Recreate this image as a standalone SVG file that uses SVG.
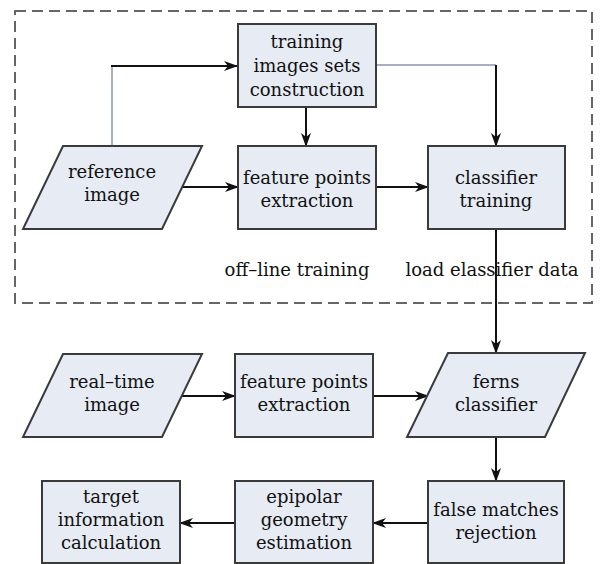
<svg xmlns="http://www.w3.org/2000/svg" width="603" height="564" viewBox="0 0 603 564">
  <style>
    .node { fill: #e6ebf4; stroke: #3a3a3a; stroke-width: 2; }
    .lbl { font-family: "DejaVu Serif", "Liberation Serif", serif; font-size: 18px; fill: #111; text-anchor: middle; }
    .wire { fill: none; stroke: #111; stroke-width: 2; }
    .thin { fill: none; stroke: #8a93b8; stroke-width: 1.5; }
    .frame { fill: none; stroke: #666; stroke-width: 2; stroke-dasharray: 11 6; }
  </style>
  <defs>
    <marker id="arrow" viewBox="0 0 14 10" refX="13" refY="5" markerWidth="14" markerHeight="10" markerUnits="userSpaceOnUse" orient="auto">
      <path d="M0,0 L14,5 L0,10 L4,5 Z" fill="#111"/>
    </marker>
  </defs>

  <rect width="603" height="564" fill="#ffffff"/>

  <!-- off-line training region -->
  <g id="offline-frame">
    <rect class="frame" x="15" y="11" width="577" height="292"/>
    <text class="lbl" x="297" y="276">off–line training</text>
    <text class="lbl" x="492" y="276">load elassifier data</text>
  </g>

  <!-- connectors -->
  <g id="connectors">
    <polyline class="thin" points="112,146 112,66"/>
    <line class="wire" x1="111" y1="66" x2="237" y2="66" marker-end="url(#arrow)"/>
    <polyline class="thin" points="376,65 496,65"/>
    <line class="wire" x1="496" y1="65" x2="496" y2="146" marker-end="url(#arrow)"/>
    <line class="wire" x1="306" y1="107" x2="306" y2="146" marker-end="url(#arrow)"/>
    <line class="wire" x1="181" y1="187" x2="238" y2="187" marker-end="url(#arrow)"/>
    <line class="wire" x1="376" y1="187" x2="428" y2="187" marker-end="url(#arrow)"/>
    <line class="wire" x1="496" y1="229" x2="496" y2="353" marker-end="url(#arrow)"/>
    <line class="wire" x1="180" y1="396" x2="235" y2="396" marker-end="url(#arrow)"/>
    <line class="wire" x1="373" y1="396" x2="428" y2="396" marker-end="url(#arrow)"/>
    <line class="wire" x1="496" y1="437" x2="496" y2="481" marker-end="url(#arrow)"/>
    <line class="wire" x1="428" y1="523" x2="373" y2="523" marker-end="url(#arrow)"/>
    <line class="wire" x1="235" y1="523" x2="180" y2="523" marker-end="url(#arrow)"/>
  </g>

  <g id="training-sets">
    <rect class="node" x="238" y="24" width="138" height="83"/>
    <text class="lbl" x="307" y="48">training</text>
    <text class="lbl" x="307" y="72">images sets</text>
    <text class="lbl" x="307" y="96">construction</text>
  </g>

  <g id="reference-image">
    <polygon class="node" points="63,146 202,146 162,229 23,229"/>
    <text class="lbl" x="112" y="178">reference</text>
    <text class="lbl" x="112" y="201">image</text>
  </g>

  <g id="feature-extraction-offline">
    <rect class="node" x="238" y="146" width="138" height="83"/>
    <text class="lbl" x="307" y="184">feature points</text>
    <text class="lbl" x="307" y="207">extraction</text>
  </g>

  <g id="classifier-training">
    <rect class="node" x="428" y="146" width="137" height="83"/>
    <text class="lbl" x="496" y="184">classifier</text>
    <text class="lbl" x="496" y="207">training</text>
  </g>

  <g id="realtime-image">
    <polygon class="node" points="63,354 202,354 162,437 23,437"/>
    <text class="lbl" x="112" y="388">real–time</text>
    <text class="lbl" x="112" y="411">image</text>
  </g>

  <g id="feature-extraction-online">
    <rect class="node" x="235" y="354" width="138" height="83"/>
    <text class="lbl" x="304" y="388">feature points</text>
    <text class="lbl" x="304" y="411">extraction</text>
  </g>

  <g id="ferns-classifier">
    <polygon class="node" points="448,353 585,353 545,437 407,437"/>
    <text class="lbl" x="496" y="388">ferns</text>
    <text class="lbl" x="496" y="411">classifier</text>
  </g>

  <g id="false-matches">
    <rect class="node" x="428" y="481" width="136" height="82"/>
    <text class="lbl" x="496" y="516">false matches</text>
    <text class="lbl" x="496" y="539">rejection</text>
  </g>

  <g id="epipolar">
    <rect class="node" x="235" y="481" width="138" height="82"/>
    <text class="lbl" x="304" y="503">epipolar</text>
    <text class="lbl" x="304" y="526">geometry</text>
    <text class="lbl" x="304" y="549">estimation</text>
  </g>

  <g id="target-info">
    <rect class="node" x="42" y="481" width="138" height="82"/>
    <text class="lbl" x="111" y="503">target</text>
    <text class="lbl" x="111" y="526">information</text>
    <text class="lbl" x="111" y="549">calculation</text>
  </g>
</svg>
